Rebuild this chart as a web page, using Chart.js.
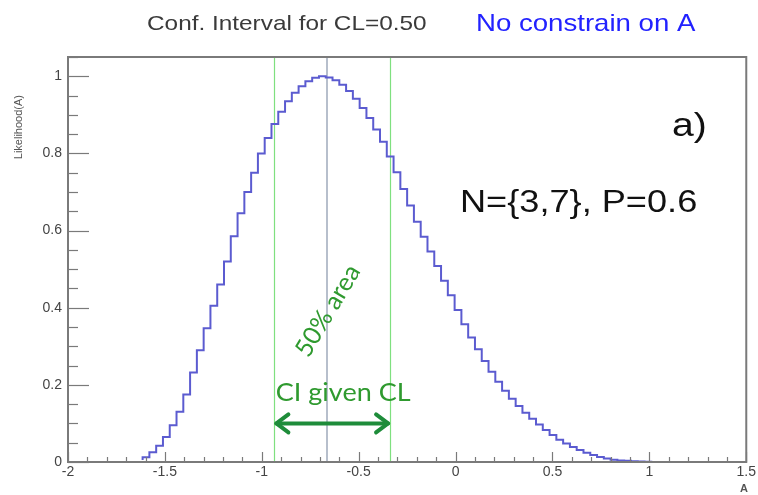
<!DOCTYPE html>
<html>
<head>
<meta charset="utf-8">
<script src="https://cdn.jsdelivr.net/npm/chart.js@4"></script>
<style>
  body { margin: 0; background: #fff; }
  #wrap { width: 758px; height: 495px; }
</style>
</head>
<body>
<div id="wrap"><canvas id="likelihood" width="758" height="495"></canvas></div>
<script>
// Histogram binning (100 bins from -2 to 1.5)
const binLow = -2;
const binWidth = 0.035;

// Likelihood(A) per bin (null = empty bins on the left)
const likelihood = [
  null, null, null, null, null, null, null, null, null, null, null,
  0.005, 0.012, 0.025, 0.042, 0.065, 0.095, 0.13, 0.175, 0.232, 0.29,
  0.347, 0.405, 0.46, 0.52, 0.585, 0.645, 0.70, 0.75, 0.80, 0.84,
  0.876, 0.908, 0.935, 0.957, 0.974, 0.987, 0.996, 1.0, 0.997, 0.99,
  0.978, 0.962, 0.942, 0.918, 0.892, 0.862, 0.83, 0.792, 0.751, 0.708,
  0.665, 0.623, 0.584, 0.546, 0.508, 0.47, 0.432, 0.394, 0.357, 0.323,
  0.292, 0.262, 0.234, 0.208, 0.185, 0.164, 0.145, 0.128, 0.112, 0.097,
  0.083, 0.07, 0.058, 0.048, 0.039, 0.031, 0.024, 0.018, 0.013, 0.009,
  0.006, 0.004, 0.003, 0.002, 0.001, 0.0005,
  0, 0, 0, 0, 0, 0, 0, 0, 0, 0, 0, 0, 0
];

// Interval markers
const ciLow = -0.935;
const ciHigh = -0.338;
const peakA = -0.662;

// Axis ticks
const xTickLabels = ["-2", "-1.5", "-1", "-0.5", "0", "0.5", "1", "1.5"];
const yTickLabels = ["0", "0.2", "0.4", "0.6", "0.8", "1"];

// build step points from bin edges
const histPoints = likelihood.map((v, i) => ({ x: binLow + i * binWidth, y: v }));
histPoints.push({ x: binLow + likelihood.length * binWidth, y: likelihood[likelihood.length - 1] });

const FRAME = "#7a7a7a";
const SANS = "'Liberation Sans', Arial, sans-serif";

// text a bit wider than the font, like the picture
function wideText(ctx, str, x, y, sx) {
  ctx.save();
  ctx.translate(x, y);
  ctx.scale(sx, 1);
  ctx.fillText(str, 0, 0);
  ctx.restore();
}

// frame, inner ticks and all annotation text
const decorPlugin = {
  id: "decor",
  beforeDatasetsDraw(chart) {
    const ctx = chart.ctx;
    const a = chart.chartArea;
    const xs = chart.scales.x;
    ctx.save();
    ctx.lineWidth = 1.2;
    ctx.strokeStyle = "#7fe07f";
    [ciLow, ciHigh].forEach(v => {
      const px = Math.round(xs.getPixelForValue(v)) + 0.5;
      ctx.beginPath(); ctx.moveTo(px, a.top); ctx.lineTo(px, a.bottom); ctx.stroke();
    });
    ctx.strokeStyle = "#b7bfcc";
    ctx.lineWidth = 2;
    const pk = Math.round(xs.getPixelForValue(peakA));
    ctx.beginPath(); ctx.moveTo(pk, a.top); ctx.lineTo(pk, a.bottom); ctx.stroke();
    ctx.restore();
  },
  afterDraw(chart) {
    const ctx = chart.ctx;
    const a = chart.chartArea;
    const xs = chart.scales.x;
    const ys = chart.scales.y;
    ctx.save();

    // frame
    ctx.strokeStyle = FRAME;
    ctx.lineWidth = 2;
    ctx.strokeRect(a.left, a.top, a.right - a.left, a.bottom - a.top);

    // x ticks pointing up
    ctx.lineWidth = 1.2;
    for (let k = 0; k <= 35; k++) {
      const v = -2 + k * 0.1;
      const px = Math.round(xs.getPixelForValue(v)) + 0.5;
      const len = k % 5 === 0 ? 10 : 5;
      ctx.beginPath(); ctx.moveTo(px, a.bottom); ctx.lineTo(px, a.bottom - len); ctx.stroke();
    }
    // y ticks pointing right
    for (let k = 0; k <= 21; k++) {
      const v = k * 0.05;
      const py = Math.round(ys.getPixelForValue(v)) + 0.5;
      const len = k % 4 === 0 ? 21 : 10;
      ctx.beginPath(); ctx.moveTo(a.left, py); ctx.lineTo(a.left + len, py); ctx.stroke();
    }

    // titles
    ctx.textBaseline = "alphabetic";
    ctx.textAlign = "left";
    ctx.fillStyle = "#3a3a3a";
    ctx.font = "21px " + SANS;
    wideText(ctx, "Conf. Interval for CL=0.50", 147, 30, 1.16);
    ctx.fillStyle = "#2222ff";
    ctx.font = "24px " + SANS;
    wideText(ctx, "No constrain on A", 476, 31, 1.15);

    // axis titles
    ctx.fillStyle = "#555";
    ctx.font = "11px " + SANS;
    ctx.save();
    ctx.translate(22, 95);
    ctx.rotate(-Math.PI / 2);
    ctx.textAlign = "right";
    ctx.fillText("Likelihood(A)", 0, 0);
    ctx.restore();
    ctx.font = "bold 11px " + SANS;
    ctx.textAlign = "right";
    ctx.fillText("A", 748, 492);

    // labels
    ctx.fillStyle = "#111";
    ctx.textAlign = "left";
    ctx.font = "34px " + SANS;
    wideText(ctx, "a)", 672, 136, 1.15);
    ctx.font = "32px " + SANS;
    wideText(ctx, "N={3,7}, P=0.6", 460, 212, 1.13);

    // green annotations
    const green = "#2f9a2f";
    ctx.fillStyle = green;
    ctx.font = "25px Lato, 'Open Sans', sans-serif";
    ctx.save();
    ctx.translate(328, ys.getPixelForValue(0.392));
    ctx.rotate(-59 * Math.PI / 180);
    ctx.textAlign = "center";
    ctx.textBaseline = "middle";
    ctx.fillText("50% area", 0, 0);
    ctx.restore();

    ctx.textAlign = "center";
    ctx.textBaseline = "middle";
    wideText(ctx, "CI given CL", xs.getPixelForValue(-0.58), ys.getPixelForValue(0.18), 1.08);

    // double arrow
    const x1 = xs.getPixelForValue(ciLow) + 2;
    const x2 = xs.getPixelForValue(ciHigh) - 2;
    const ay = ys.getPixelForValue(0.10);
    ctx.strokeStyle = "#1e8c3a";
    ctx.lineWidth = 4;
    ctx.lineCap = "round";
    ctx.lineJoin = "round";
    ctx.beginPath(); ctx.moveTo(x1, ay); ctx.lineTo(x2, ay); ctx.stroke();
    ctx.beginPath();
    ctx.moveTo(x1 + 12, ay - 9); ctx.lineTo(x1, ay); ctx.lineTo(x1 + 12, ay + 9);
    ctx.moveTo(x2 - 12, ay - 9); ctx.lineTo(x2, ay); ctx.lineTo(x2 - 12, ay + 9);
    ctx.stroke();
    ctx.restore();
  }
};

const ctx = document.getElementById("likelihood").getContext("2d");
new Chart(ctx, {
  type: "line",
  data: {
    datasets: [{
      data: histPoints,
      stepped: "after",
      borderColor: "#5b5bd0",
      borderWidth: 2,
      pointRadius: 0,
      fill: false,
      spanGaps: false
    }]
  },
  options: {
    responsive: false,
    animation: false,
    devicePixelRatio: 1,
    layout: { padding: { top: 57, right: 10, left: 0, bottom: 0 } },
    plugins: { legend: { display: false }, tooltip: { enabled: false } },
    scales: {
      x: {
        type: "linear",
        min: -2,
        max: 1.5,
        afterFit(scale) { scale.height = 33; },
        grid: { display: false, drawTicks: false },
        border: { display: false },
        ticks: {
          stepSize: 0.5,
          maxRotation: 0,
          padding: 2,
          color: "#444",
          font: { family: "'Liberation Sans', Arial", size: 14 },
          callback: (v, i) => xTickLabels[i]
        }
      },
      y: {
        min: 0,
        max: 1.05,
        afterFit(scale) { scale.width = 68; },
        grid: { display: false, drawTicks: false },
        border: { display: false },
        ticks: {
          stepSize: 0.2,
          includeBounds: false,
          padding: 6,
          color: "#444",
          font: { family: "'Liberation Sans', Arial", size: 14 },
          callback: (v, i) => yTickLabels[i]
        }
      }
    }
  },
  plugins: [decorPlugin]
});
</script>
</body>
</html>
